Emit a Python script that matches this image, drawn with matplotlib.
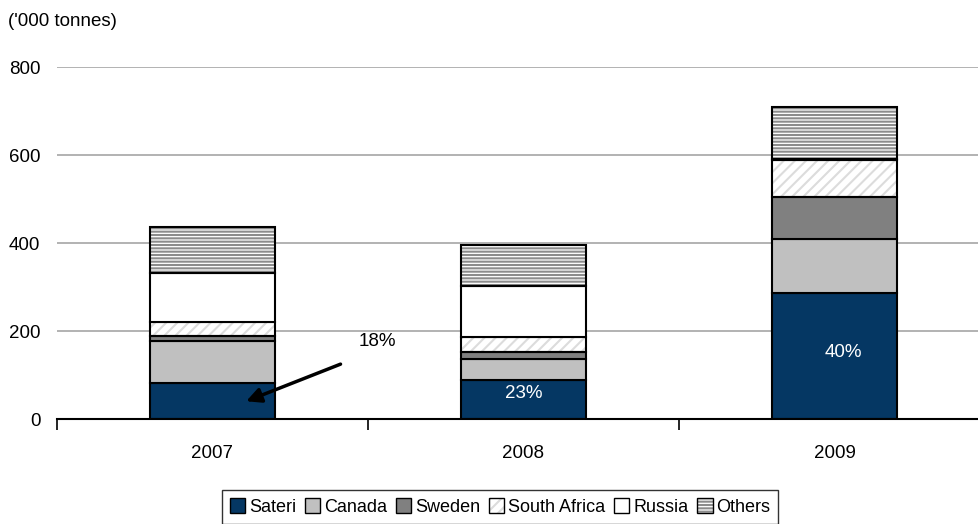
import numpy as np
import matplotlib
matplotlib.use("Agg")
import matplotlib.pyplot as plt
from matplotlib.patches import Patch
from matplotlib.legend_handler import HandlerTuple

plt.rcParams['font.family'] = ['Liberation Sans', 'DejaVu Sans']
plt.rcParams['hatch.linewidth'] = 1.5

years = ['2007', '2008', '2009']
series = ['Sateri', 'Canada', 'Sweden', 'South Africa', 'Russia', 'Others']
sateri = [81, 89, 286]
canada = [96, 47, 123]
sweden = [11, 16, 96]
south_africa = [32, 34, 83]
russia = [111, 116, 4]
others = [105, 93, 116]
shares = ['18%', '23%', '40%']

values = [sateri, canada, sweden, south_africa, russia, others]
fills = ['#053763', '#C0C0C0', '#808080', 'white', 'white', 'white']
hatches = [None, None, None, '///', None, '-----']
hatch_cols = [None, None, None, '#DCDCDC', None, '#8C8C8C']

fig = plt.figure(figsize=(9.79, 5.24), dpi=100)
ax = fig.add_axes([57/979, 1 - 419/524, 933/979, 352/524])

x = np.arange(len(years))
w = 0.4
bottom = np.zeros(len(years))
for vals, fc, h, hc in zip(values, fills, hatches, hatch_cols):
    vals = np.array(vals)
    if h:
        ax.bar(x, vals, w, bottom=bottom, color=fc, hatch=h, edgecolor=hc,
               linewidth=0, zorder=2)
        ax.bar(x, vals, w, bottom=bottom, fill=False, edgecolor='black',
               linewidth=1.5, zorder=3)
    else:
        ax.bar(x, vals, w, bottom=bottom, color=fc, edgecolor='black',
               linewidth=1.5, zorder=3)
    bottom += vals

ax.set_xlim(-0.5, 2.5)
ax.set_ylim(0, 800)
ax.set_yticks([0, 200, 400, 600, 800])
ax.yaxis.grid(True, color='#A6A6A6', linewidth=1.2, zorder=0)
ax.set_axisbelow(True)
ax.tick_params(axis='y', length=0, pad=12, labelsize=13.5)

ax.set_xticks([-0.5, 0.5, 1.5, 2.5])
ax.set_xticklabels([])
ax.set_xticks(x, minor=True)
ax.set_xticklabels(years, minor=True)
ax.tick_params(axis='x', which='major', length=8, width=1.2, direction='out')
ax.tick_params(axis='x', which='minor', length=0, pad=19, labelsize=13.5)

for s in ['top', 'right', 'left']:
    ax.spines[s].set_visible(False)
ax.spines['bottom'].set_linewidth(1.5)
ax.spines['bottom'].set_zorder(4)

# share labels
ax.text(0.53, 175, shares[0], ha='center', va='center', fontsize=13.5)
ax.annotate('', xy=(0.1, 38), xytext=(0.42, 127),
            arrowprops=dict(arrowstyle='-|>', color='black', lw=2.5,
                            mutation_scale=22))
ax.text(1, 58, shares[1], ha='center', va='center', fontsize=13.5, color='white')
ax.text(2.03, 152, shares[2], ha='center', va='center', fontsize=13.5, color='white')

fig.text(8/979, 1 - 21/524, "('000 tonnes)", ha='left', va='center', fontsize=13.5)

handles = []
for name, fc, h, hc in zip(series, fills, hatches, hatch_cols):
    if h:
        handles.append((Patch(facecolor=fc, edgecolor=hc, hatch=h, linewidth=0),
                        Patch(fill=False, edgecolor='black', linewidth=1)))
    else:
        handles.append(Patch(facecolor=fc, edgecolor='black', linewidth=1))
leg = fig.legend(handles=handles, labels=series, loc='upper center',
                 bbox_to_anchor=(500/979, 1 - 490/524),
                 ncol=6, frameon=True, fancybox=False, fontsize=13,
                 handler_map={tuple: HandlerTuple(ndivide=1)},
                 handlelength=0.85, handleheight=0.85, handletextpad=0.2,
                 columnspacing=0.5, borderpad=0.45, borderaxespad=0)
leg.get_frame().set_edgecolor('black')
leg.get_frame().set_linewidth(1)

fig.savefig('out.png', dpi=100)
